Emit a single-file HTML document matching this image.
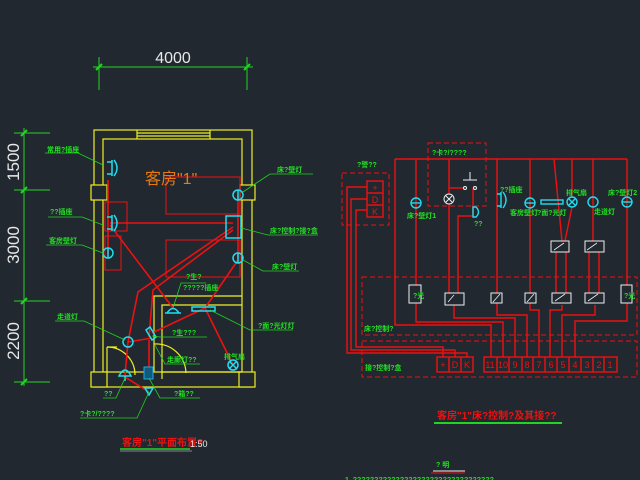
<!DOCTYPE html>
<html><head><meta charset="utf-8"><style>
html,body{margin:0;padding:0;background:#212830;}
svg{display:block}
text{font-family:"Liberation Sans","Noto Sans CJK SC",sans-serif;}
.g{fill:#22e022;font-size:7px;font-weight:bold}
</style></head><body>
<svg width="640" height="480" viewBox="0 0 640 480" xmlns="http://www.w3.org/2000/svg">
<rect width="640" height="480" fill="#212830"/>
<!-- top dimension -->
<g stroke="#22d422" stroke-width="1" fill="none">
<line x1="93" y1="67" x2="253" y2="67"/>
<line x1="99" y1="57" x2="99" y2="90"/>
<line x1="247" y1="57" x2="247" y2="90"/>
<line x1="96" y1="70" x2="102" y2="64" stroke-width="2"/>
<line x1="244" y1="70" x2="250" y2="64" stroke-width="2"/>
<!-- left vertical dim -->
<line x1="24" y1="128" x2="24" y2="386"/>
<line x1="14" y1="133" x2="50" y2="133"/>
<line x1="14" y1="190" x2="50" y2="190"/>
<line x1="14" y1="301" x2="50" y2="301"/>
<line x1="14" y1="382" x2="50" y2="382"/>
<line x1="21" y1="136" x2="27" y2="130" stroke-width="2"/>
<line x1="21" y1="193" x2="27" y2="187" stroke-width="2"/>
<line x1="21" y1="304" x2="27" y2="298" stroke-width="2"/>
<line x1="21" y1="385" x2="27" y2="379" stroke-width="2"/>
</g>
<text x="173" y="63" fill="#e8e8e8" font-size="16" text-anchor="middle">4000</text>
<text transform="translate(19,162) rotate(-90)" fill="#e8e8e8" font-size="17" text-anchor="middle">1500</text>
<text transform="translate(19,245) rotate(-90)" fill="#e8e8e8" font-size="17" text-anchor="middle">3000</text>
<text transform="translate(19,341) rotate(-90)" fill="#e8e8e8" font-size="17" text-anchor="middle">2200</text>

<!-- walls -->
<g stroke="#f0f020" stroke-width="1.2" fill="none">
<rect x="94" y="130" width="158" height="257"/>
<rect x="103" y="139" width="139" height="233"/>
<line x1="137" y1="130" x2="137" y2="139"/><line x1="210" y1="130" x2="210" y2="139"/>
<line x1="137" y1="133" x2="210" y2="133"/><line x1="137" y1="136" x2="210" y2="136"/>
<rect x="91" y="185" width="16" height="15" fill="#212830"/>
<rect x="240" y="185" width="15" height="15" fill="#212830"/>
<rect x="91" y="372" width="16" height="15" fill="#212830"/>
<rect x="239" y="372" width="16" height="15" fill="#212830"/>
<polyline points="242,296 154,296 154,372"/>
<polyline points="242,305 162,305 162,372"/>
<polyline points="162,379 162,372 242,372"/>
<line x1="107" y1="347" x2="107" y2="372"/>
<line x1="107" y1="347" x2="117" y2="347"/>
<path d="M107,347 A28,28 0 0 1 135,375"/>
<path d="M154,344 A30,30 0 0 1 186,373"/>
</g>
<!-- red beds & wires -->
<g stroke="#ee1111" fill="none">
<rect x="166" y="177" width="74" height="37"/>
<rect x="166" y="240" width="74" height="37"/>
<rect x="105" y="202" width="22" height="29"/>
<rect x="105" y="236" width="16" height="34"/>
<g stroke-width="1.6">
<line x1="110" y1="223" x2="233" y2="223"/>
<line x1="110" y1="225" x2="173" y2="308"/>
<polyline points="233,227 138,292 128,342"/>
<polyline points="233,230 153,290 149,337"/>
<line x1="238" y1="260" x2="205" y2="308"/>
<line x1="205" y1="308" x2="152" y2="333"/>
<line x1="205" y1="308" x2="233" y2="365"/>
<line x1="128" y1="342" x2="152" y2="338"/>
<line x1="128" y1="342" x2="125" y2="375"/>
<line x1="149" y1="340" x2="149" y2="373"/>
<line x1="125" y1="377" x2="149" y2="392"/>
<line x1="108" y1="180" x2="108" y2="253"/>
<line x1="238" y1="195" x2="238" y2="258"/>
</g></g>
<!-- cyan fixtures -->
<g stroke="#22ddee" stroke-width="1.5" fill="none">
<path d="M112,160 v16 M112,162 h-5 M112,174 h-5 M114,160 q6,8 0,16"/>
<path d="M112,215 v16 M112,217 h-5 M112,229 h-5 M114,215 q6,8 0,16"/>
<circle cx="108" cy="253" r="5"/><line x1="108" y1="248" x2="108" y2="258"/>
<circle cx="238" cy="195" r="5"/><line x1="238" y1="190" x2="238" y2="200"/>
<circle cx="238" cy="258" r="5"/><line x1="238" y1="253" x2="238" y2="263"/>
<rect x="226" y="216" width="15" height="22"/>
<circle cx="128" cy="342" r="5"/>
<path d="M146,330 l6,10 l4,-3 l-6,-10 z"/>
<circle cx="233" cy="365" r="5"/><path d="M229,361 l8,8 M237,361 l-8,8"/>
<rect x="192" y="307" width="23" height="4"/>
<path d="M165,313 h16 M167,313 q6,-9 12,0"/>
<path d="M119,376 q6,-12 12,0 z M125,376 v5"/>
<path d="M145,388 h8 l-4,7 z"/>
</g>
<rect x="144" y="367" width="9" height="12" fill="#105a80" stroke="#22aadd"/>
<!-- green leaders -->
<g stroke="#22d422" stroke-width="0.8" fill="none">
<polyline points="45,153 78,153 103,165"/>
<polyline points="48,217 82,217 103,225"/>
<polyline points="46,245 82,245 103,253"/>
<polyline points="313,174 270,174 243,192"/>
<polyline points="318,235 268,235 241,228"/>
<polyline points="299,271 263,271 243,260"/>
<polyline points="206,283 181,283 173,308"/>
<polyline points="293,330 250,330 210,310"/>
<polyline points="55,321 84,321 125,340"/>
<polyline points="207,337 160,337 152,336"/>
<polyline points="200,364 165,364 155,345"/>
<polyline points="103,398 116,398 125,378"/>
<polyline points="80,418 137,418 149,392"/>
<polyline points="200,398 160,398 149,378"/>
</g>
<text x="47" y="152" class="g">常用?插座</text>
<text x="50" y="214" class="g">??插座</text>
<text x="49" y="243" class="g">客房壁灯</text>
<text x="277" y="172" class="g">床?壁灯</text>
<text x="270" y="233" class="g">床?控制?接?盒</text>
<text x="272" y="269" class="g">床?壁灯</text>
<text x="186" y="279" class="g">?生?</text>
<text x="183" y="290" class="g">?????插座</text>
<text x="258" y="328" class="g">?面?光灯灯</text>
<text x="57" y="319" class="g">走道灯</text>
<text x="172" y="335" class="g">?生???</text>
<text x="167" y="362" class="g">走廊灯??</text>
<text x="224" y="359" class="g">排气扇</text>
<text x="104" y="396" class="g">??</text>
<text x="80" y="416" class="g">?卡?/????</text>
<text x="174" y="396" class="g">?箱??</text>
<text x="145" y="184" fill="#e87a10" font-size="16">客房"1"</text>
<text x="122" y="446" fill="#ee1111" font-size="10" font-weight="bold">客房"1"平面布置?</text>
<text x="190" y="447" fill="#e8e8e8" font-size="9">1:50</text>
<line x1="120" y1="449" x2="190" y2="449" stroke="#22d422" stroke-width="1.5"/>
<line x1="120" y1="451" x2="192" y2="451" stroke="#e8e8e8" stroke-width="0.6"/>

<!-- right schematic -->
<g stroke="#ee1111" fill="none" stroke-dasharray="5,3" stroke-width="1">
<rect x="428" y="143" width="58" height="63"/>
<rect x="342" y="173" width="47" height="52"/>
<rect x="362" y="277" width="275" height="58"/>
<rect x="362" y="341" width="275" height="36"/>
</g>
<g stroke="#ee1111" fill="none" stroke-width="1.4">
<line x1="395" y1="159" x2="627" y2="159"/>
<polyline points="395,159 395,325 491,325 491,357"/>
<polyline points="416,159 416,285"/><polyline points="416,303 416,322 503,322 503,357"/>
<polyline points="449,159 449,293"/>
<polyline points="473,188 473,216 458,216 458,293"/>
<polyline points="463,188 449,188"/>
<polyline points="454,305 454,318 515,318 515,357"/>
<polyline points="497,159 497,293"/><polyline points="497,303 497,315 527,315 527,357"/>
<polyline points="530,159 530,293"/><polyline points="530,303 530,310 539,310 539,357"/>
<line x1="554" y1="159" x2="562" y2="241"/><line x1="572" y1="159" x2="572" y2="197"/>
<line x1="572" y1="207" x2="565" y2="241"/>
<line x1="593" y1="159" x2="593" y2="241"/>
<line x1="627" y1="159" x2="627" y2="285"/>
<polyline points="627,303 627,321 575,321 575,357"/>
<line x1="556" y1="252" x2="556" y2="293"/><line x1="566" y1="252" x2="566" y2="293"/>
<line x1="589" y1="252" x2="589" y2="293"/><line x1="599" y1="252" x2="599" y2="293"/>
<polyline points="562,305 562,310 550,310 550,357"/>
<polyline points="595,305 595,315 562,315 562,357"/>
<polyline points="367,187 347,187 347,353 467,353 467,357"/>
<polyline points="367,199 351,199 351,350 455,350 455,357"/>
<polyline points="367,210 356,210 356,347 443,347 443,357"/>
<rect x="367" y="181" width="16" height="36"/><line x1="367" y1="193" x2="383" y2="193"/><line x1="367" y1="205" x2="383" y2="205"/>
<rect x="437" y="357" width="36" height="15"/><line x1="449" y1="357" x2="449" y2="372"/><line x1="461" y1="357" x2="461" y2="372"/>
<rect x="484" y="357" width="133" height="15"/>
<path d="M497,357v15M509,357v15M522,357v15M533,357v15M545,357v15M557,357v15M569,357v15M581,357v15M593,357v15M604,357v15"/>
</g>
<g fill="#ee1111" font-size="9" text-anchor="middle" font-family="Liberation Sans">
<text x="375" y="191">+</text><text x="375" y="203">D</text><text x="375" y="215">K</text>
<text x="443" y="368">+</text><text x="455" y="368">D</text><text x="467" y="368">K</text>
<text x="490" y="368">11</text><text x="503" y="368">10</text><text x="515" y="368">9</text><text x="527" y="368">8</text><text x="539" y="368">7</text><text x="551" y="368">6</text><text x="563" y="368">5</text><text x="575" y="368">4</text><text x="587" y="368">3</text><text x="599" y="368">2</text><text x="610" y="368">1</text>
</g>
<!-- white switch boxes -->
<g stroke="#eeeeee" fill="#212830" stroke-width="1">
<rect x="409" y="285" width="12" height="18"/>
<rect x="445" y="293" width="19" height="12"/>
<rect x="491" y="293" width="11" height="10"/>
<rect x="525" y="293" width="11" height="10"/>
<rect x="552" y="293" width="19" height="10"/>
<rect x="585" y="293" width="19" height="10"/>
<rect x="621" y="285" width="11" height="18"/>
<rect x="551" y="241" width="18" height="11"/>
<rect x="585" y="241" width="19" height="11"/>
<path d="M463,180 h14 M470,180 v-8" fill="none"/>
<circle cx="465" cy="188" r="1.5"/><circle cx="475" cy="188" r="1.5"/>
<circle cx="449" cy="199" r="5" fill="#212830"/>
<path d="M446,196 l6,6 M452,196 l-6,6" fill="none"/>
</g>
<g stroke="#eeeeee" fill="none" stroke-width="0.8">
<path d="M554,250 l10,-7 M587,250 l10,-7 M555,301 l10,-7 M588,301 l10,-7 M448,302 l6,-7 M493,302 l7,-8 M527,302 l7,-8"/>
</g>
<g stroke="#22ddee" stroke-width="1.4" fill="none">
<circle cx="416" cy="203" r="5"/><line x1="411" y1="203" x2="421" y2="203"/>
<circle cx="530" cy="203" r="5"/><line x1="525" y1="203" x2="535" y2="203"/>
<circle cx="627" cy="202" r="5"/><line x1="622" y1="202" x2="632" y2="202"/>
<circle cx="572" cy="202" r="5"/><path d="M569,199 l6,6 M575,199 l-6,6"/>
<circle cx="593" cy="202" r="5"/>
<rect x="541" y="200" width="22" height="4"/>
<path d="M501,192 v16 M501,194 h-4 M501,206 h-4 M503,192 q6,8 0,16"/>
<path d="M473,207 h3 q5,5 0,10 h-3 z"/>
</g>
<text x="432" y="155" class="g">?卡?/????</text>
<text x="357" y="167" class="g">?警??</text>
<text x="407" y="218" class="g">床?壁灯1</text>
<text x="474" y="226" class="g">??</text>
<text x="500" y="192" class="g">??插座</text>
<text x="510" y="215" class="g">客房壁灯</text>
<text x="537" y="215" class="g">?面?光灯</text>
<text x="566" y="195" class="g">排气扇</text>
<text x="594" y="214" class="g">走道灯</text>
<text x="608" y="195" class="g">床?壁灯2</text>
<text x="364" y="331" class="g">床?控制?</text>
<text x="365" y="370" class="g">接?控制?盒</text>
<text x="413" y="298" class="g" font-size="6">?光</text>
<text x="624" y="298" class="g" font-size="6">?光</text>
<text x="437" y="419" fill="#ee1111" font-size="10" font-weight="bold">客房"1"床?控制?及其接??</text>
<line x1="434" y1="423" x2="562" y2="423" stroke="#22d422" stroke-width="2"/>
<text x="436" y="467" class="g" font-size="9">? 明</text>
<line x1="433" y1="471" x2="465" y2="471" stroke="#eeeeee" stroke-width="1"/>
<line x1="431" y1="473" x2="465" y2="473" stroke="#ee1111" stroke-width="1"/>
<text x="345" y="482" class="g" font-size="6">1. ?????????????????????????????????</text>
</svg>
</body></html>
